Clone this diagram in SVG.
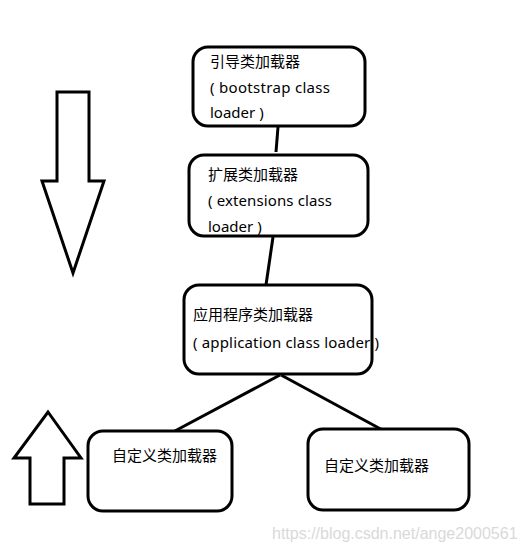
<svg xmlns="http://www.w3.org/2000/svg" width="523" height="552" viewBox="0 0 523 552">
<style>
.box{fill:#fff;stroke:#000;stroke-width:3}
.arr{fill:#fff;stroke:#000;stroke-width:3;stroke-linejoin:miter}
.t{font-family:"Noto Sans","Noto Sans CJK SC",sans-serif;font-size:15px;fill:#000}
.c{stroke:#000;stroke-width:3;fill:none}
.wm{font-family:"Liberation Sans",Arial,sans-serif;font-size:16px;fill:#d9d9d9}
</style>
<rect width="523" height="552" fill="#fff"/>
<g id="connectors">
<line class="c" x1="278" y1="127" x2="276" y2="152"/>
<line class="c" x1="273" y1="237" x2="266" y2="285"/>
<line class="c" x1="280" y1="375" x2="173" y2="432"/>
<line class="c" x1="281" y1="375" x2="388" y2="433"/>
</g>
<g id="arrow-down"><polygon class="arr" points="57,92 89,92 89,181 104,181 73,273 42,181 57,181"/></g>
<g id="arrow-up"><polygon class="arr" points="48,412 81,458 64,458 64,504 30,504 30,458 14,458"/></g>
<g id="bootstrap">
<rect class="box" x="193" y="47" width="172" height="79" rx="15"/>
<text class="t" x="210" y="67">引导类加载器</text>
<text class="t" x="210" y="93" textLength="120" lengthAdjust="spacing">( bootstrap class</text>
<text class="t" x="210" y="118">loader )</text>
</g>
<g id="extensions">
<rect class="box" x="189" y="155" width="179" height="81" rx="15"/>
<text class="t" x="208" y="180">扩展类加载器</text>
<text class="t" x="208" y="206" textLength="124" lengthAdjust="spacing">( extensions class</text>
<text class="t" x="208" y="232">loader )</text>
</g>
<g id="application">
<rect class="box" x="184" y="285" width="188" height="89" rx="15"/>
<text class="t" x="193" y="320">应用程序类加载器</text>
<text class="t" x="193" y="348" textLength="186" lengthAdjust="spacing">( application class loader )</text>
</g>
<g id="custom1">
<rect class="box" x="88" y="431" width="144" height="80" rx="15"/>
<text class="t" x="112" y="461">自定义类加载器</text>
</g>
<g id="custom2">
<rect class="box" x="308" y="429" width="161" height="81" rx="15"/>
<text class="t" x="324" y="471">自定义类加载器</text>
</g>
<text class="wm" x="272" y="539">https://blog.csdn.net/ange2000561</text>
</svg>
